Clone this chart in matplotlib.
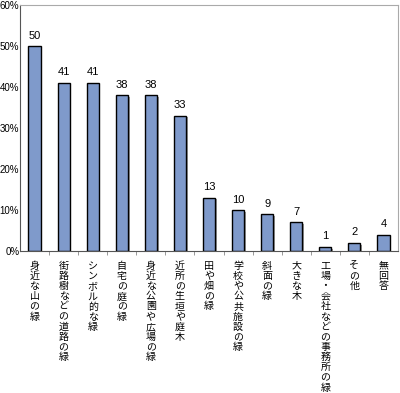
import numpy as np
import matplotlib.pyplot as plt
import matplotlib.patheffects as pe

plt.rcParams['font.family'] = ['Liberation Sans', 'Noto Sans CJK JP', 'DejaVu Sans']

categories = ["身近な山の緑", "街路樹などの道路の緑", "シンボル的な緑", "自宅の庭の緑",
              "身近な公園や広場の緑", "近所の生垣や庭木", "田や畑の緑", "学校や公共施設の緑",
              "斜面の緑", "大きな木", "工場・会社などの事務所の緑", "その他", "無回答"]
values = [50, 41, 41, 38, 38, 33, 13, 10, 9, 7, 1, 2, 4]
yticks = [0, 10, 20, 30, 40, 50, 60]

fig = plt.figure(figsize=(4.0, 3.93), dpi=100)
ax = fig.add_axes([0.05, 0.361, 0.945, 0.626])

x = np.arange(len(categories))
bars = ax.bar(x, values, width=0.42, color='#7f9acb', edgecolor='black', linewidth=1.0,
              path_effects=[pe.SimplePatchShadow(offset=(1.2, -1.2), shadow_rgbFace='#999999', alpha=1.0),
                            pe.Normal()])

for xi, v in zip(x, values):
    ax.annotate(str(v), (xi, v), xytext=(0, 4), textcoords='offset points',
                ha='center', va='bottom', fontsize=8)

ax.set_xlim(-0.5, len(categories) - 0.5)
ax.set_ylim(0, 60)
ax.set_yticks(yticks)
ax.set_yticklabels([f"{t}%" for t in yticks], fontsize=7)
ax.tick_params(axis='y', length=0, pad=0.5)

ax.set_xticks(x)
ax.set_xticklabels(['\n'.join(c) for c in categories], fontsize=7.2,
                   family=['Noto Sans CJK JP', 'DejaVu Sans'], linespacing=1.02, va='top')
ax.tick_params(axis='x', which='major', length=0, pad=7)
ax.set_xticks(x[:-1] + 0.5, minor=True)
ax.tick_params(axis='x', which='minor', length=3, width=0.6, colors='#888888')

for s in ['top', 'right']:
    ax.spines[s].set_color('#aaaaaa')
ax.spines['left'].set_color('#555555')
ax.spines['bottom'].set_color('#555555')
for s in ax.spines.values():
    s.set_linewidth(0.8)

fig.savefig('out.png', dpi=100)
